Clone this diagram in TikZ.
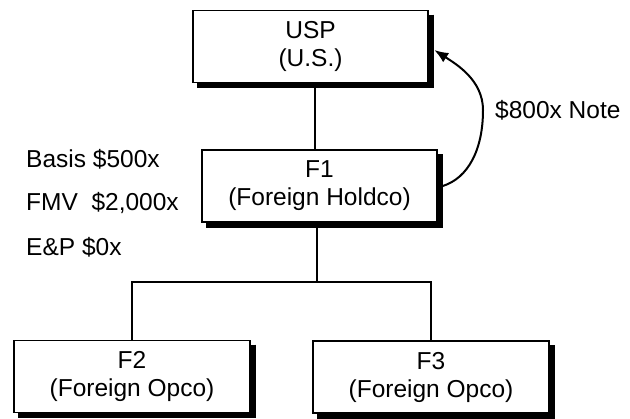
\documentclass[tikz,border=0pt]{standalone}
\usepackage{fontspec}
\setmainfont{Liberation Sans}
\usetikzlibrary{arrows.meta}
\begin{document}
\begin{tikzpicture}[x=1pt,y=-1pt,
  entity/.style={draw=black, line width=1.6pt, fill=white,
    minimum width=235pt, minimum height=72pt, inner sep=0pt, align=center,
    font=\fontsize{24.5}{28}\selectfont},
  edge shadow/.style={draw=black, line width=5pt, line join=miter},
  link/.style={draw=black, line width=1.7pt},
  loan/.style={draw=black, line width=2pt, -{Latex[length=14pt,width=11pt]}},
  fact/.style={font=\fontsize{24.5}{28}\selectfont, inner sep=0pt, anchor=base west}]
\fill[white] (0,0) rectangle (630,419);
\useasboundingbox (0,0) rectangle (630,419);

% ownership chain
\node[entity] (usp) at (310.5,46.5) {USP\\(U.S.)};
\node[entity] (f1)  at (319.5,186)  {F1\\(Foreign Holdco)};
\node[entity, minimum width=236pt] (f2) at (132,376.5) {F2\\(Foreign Opco)};
\node[entity, minimum width=236pt] (f3) at (431,377)   {F3\\(Foreign Opco)};

% heavy shadow along the right and bottom edge of each box
\foreach \b in {usp,f1,f2,f3}
  \draw[edge shadow] ([shift={(2.5pt,-5pt)}]\b.north east)
    -- ([shift={(2.5pt,-2.5pt)}]\b.south east)
    -- ([shift={(5pt,-2.5pt)}]\b.south west);

\coordinate (junction) at (317,282);
\draw[link] ([xshift=4.5pt]usp.south) -- ([xshift=-4.5pt]f1.north);
\draw[link] ([xshift=-2.5pt]f1.south) -- (junction);
\draw[link] (f2.north) |- (junction) -| (f3.north);

% note issued by F1 to USP
\coordinate (bulge) at (483,110);
\draw[loan] ([xshift=5pt]f1.east) .. controls (468,178) and (483,150) .. (bulge)
  .. controls (483,80) and (456,64) .. ([xshift=5.5pt,yshift=-3.5pt]usp.east);
\node[fact] (note) at (495,118.5) {\$800x Note};

% F1 share attributes
\node[fact] (basis) at (26,167.5) {Basis \$500x};
\node[fact] (fmv)   at (26,210.5) {FMV\ \ \$2,000x};
\node[fact] (ep)    at (26,255.5) {E\&P \$0x};
\end{tikzpicture}
\end{document}
